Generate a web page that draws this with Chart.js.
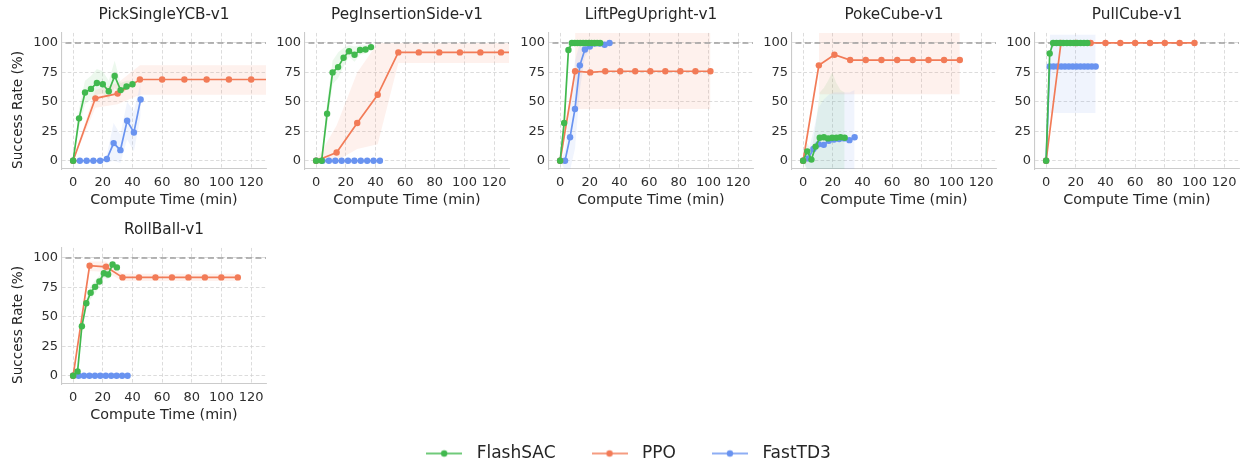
<!DOCTYPE html>
<html><head><meta charset="utf-8">
<script src="https://cdn.jsdelivr.net/npm/chart.js@4.4.0/dist/chart.umd.min.js"></script>
<style>
html,body{margin:0;padding:0;background:#fff;}
body{width:1244px;height:467px;overflow:hidden;position:relative;}
canvas{position:absolute;}
</style></head><body>
<script>
// ---------- series names / colours ----------
const SERIES_NAMES = ['FlashSAC', 'PPO', 'FastTD3'];
const TASK_TITLES = ['PickSingleYCB-v1', 'PegInsertionSide-v1', 'LiftPegUpright-v1', 'PokeCube-v1', 'PullCube-v1', 'RollBall-v1'];
const X_TICKS = [0, 20, 40, 60, 80, 100, 120];
const Y_TICKS = [0, 25, 50, 75, 100];

// ---------- PickSingleYCB-v1 ----------
const pickFlashT  = [0, 4, 8, 12, 16, 20, 24, 28, 32, 36, 40];
const pickFlashY  = [0, 36, 58, 61, 66, 65, 59, 72, 60, 63, 65];
const pickFlashLo = [0, 28, 48, 52, 56, 57, 52, 62, 56, 60, 63];
const pickFlashHi = [0, 44, 68, 72, 78, 76, 68, 85, 66, 68, 68];
const pickPpoT  = [0, 15, 30, 45, 60, 75, 90, 105, 120, 135];
const pickPpoY  = [0, 53, 57, 69, 69, 69, 69, 69, 69, 69];
const pickPpoLo = [0, 45, 48, 56, 56, 56, 56, 56, 56, 56];
const pickPpoHi = [0, 60, 66, 81, 81, 81, 81, 81, 81, 81];
const pickFastT  = [0, 4.55, 9.1, 13.65, 18.2, 22.75, 27.3, 31.85, 36.4, 40.95, 45.5];
const pickFastY  = [0, 0, 0, 0, 0, 1.5, 15, 9, 34, 24, 52];
const pickFastLo = [0, 0, 0, 0, 0, -2, 0, -2, 18, 8, 38];
const pickFastHi = [0, 0, 0, 0, 0, 5, 32, 22, 50, 42, 66];

// ---------- PegInsertionSide-v1 ----------
const pegFlashT  = [0, 3.7, 7.4, 11.1, 14.8, 18.5, 22.2, 25.9, 29.6, 33.3, 37];
const pegFlashY  = [0, 0, 40, 75, 79.5, 87.5, 93, 90, 94, 94.5, 96.5];
const pegFlashLo = [0, 0, 30, 65, 70, 80, 88, 84, 90, 91, 94];
const pegFlashHi = [0, 0, 50, 85, 92, 96, 98, 97, 98, 98, 99];
const pegPpoT  = [0, 13.8, 27.7, 41.5, 55.4, 69.2, 83, 96.9, 110.7, 124.6, 138.4];
const pegPpoY  = [0, 7, 32, 56, 92, 92, 92, 92, 92, 92, 92];
const pegPpoLo = [0, 0, 10, 14, 83, 83, 83, 83, 83, 83, 83];
const pegPpoHi = [0, 30, 75, 100, 100, 100, 100, 100, 100, 100, 100];
const pegFastT = [0, 4.3, 8.6, 12.9, 17.2, 21.5, 25.8, 30.1, 34.4, 38.7, 43];
const pegFastY = [0, 0, 0, 0, 0, 0, 0, 0, 0, 0, 0];

// ---------- LiftPegUpright-v1 ----------
const liftFlashT  = [0, 2.7, 5.6, 7.9, 9.8, 11.7, 13.6, 15.5, 17.4, 19.3, 21.2, 23.1, 25, 27];
const liftFlashY  = [0, 32, 94, 100, 100, 100, 100, 100, 100, 100, 100, 100, 100, 100];
const liftFlashLo = [0, 18, 88, 100, 100, 100, 100, 100, 100, 100, 100, 100, 100, 100];
const liftFlashHi = [0, 46, 100, 100, 100, 100, 100, 100, 100, 100, 100, 100, 100, 100];
const liftPpoT  = [0, 10.1, 20.3, 30.4, 40.5, 50.6, 60.8, 70.9, 81, 91.2, 101.3];
const liftPpoY  = [0, 76, 75, 76, 76, 76, 76, 76, 76, 76, 76];
const liftPpoLo = [null, 44, 44, 44, 44, 44, 44, 44, 44, 44, 44];
const liftPpoHi = [null, 112, 112, 112, 112, 112, 112, 112, 112, 112, 112];
const liftFastT  = [0, 3.3, 6.7, 10, 13.3, 16.7, 20, 23.3, 26.7, 30, 33.3];
const liftFastY  = [0, 0, 20, 44, 81, 94.5, 97, 99.5, 99.5, 98.5, 100];
const liftFastLo = [0, -8, -8, 10, 60, 88, 94, 98, 98, 96, 100];
const liftFastHi = [0, 8, 50, 85, 100, 101, 100, 101, 101, 101, 100];

// ---------- PokeCube-v1 ----------
const pokeFlashT  = [0, 2.8, 5.6, 8.4, 11.2, 14, 16.8, 19.6, 22.4, 25.2, 28];
const pokeFlashY  = [0, 8, 1, 12, 19.5, 20, 19, 19.5, 19.5, 20, 19.5];
const pokeFlashLo = [0, -9, -9, -9, -9, -9, -9, -9, -9, -9, -9];
const pokeFlashHi = [0, 15, 8, 30, 58, 62, 68, 75, 66, 60, 58];
const pokePpoT  = [0, 10.6, 21.1, 31.7, 42.2, 52.8, 63.4, 73.9, 84.5, 95, 105.6];
const pokePpoY  = [0, 81, 90, 85.5, 85.5, 85.5, 85.5, 85.5, 85.5, 85.5, 85.5];
const pokePpoLo = [null, 56.5, 56.5, 56.5, 56.5, 56.5, 56.5, 56.5, 56.5, 56.5, 56.5];
const pokePpoHi = [null, 112, 112, 112, 112, 112, 112, 112, 112, 112, 112];
const pokeFastT  = [0, 3.5, 6.9, 10.4, 13.9, 17.3, 20.8, 24.3, 27.7, 31.2, 34.7];
const pokeFastY  = [0, 2, 10, 14, 13.5, 17, 18, 18.5, 19, 17.5, 20];
const pokeFastLo = [0, -9, -9, -9, -9, -9, -9, -9, -9, -9, -9];
const pokeFastHi = [0, 8, 25, 45, 52, 56, 58, 58, 58, 58, 60];

// ---------- PullCube-v1 ----------
const pullFlashT = [0, 2.4, 4.7, 7.0, 9.3, 11.6, 14, 16.3, 18.6, 20.9, 23.2, 25.5, 27.8];
const pullFlashY = [0, 91, 100, 100, 100, 100, 100, 100, 100, 100, 100, 100, 100];
const pullPpoT = [0, 10, 20, 30, 40, 50, 60, 70, 80, 90, 100];
const pullPpoY = [0, 100, 100, 100, 100, 100, 100, 100, 100, 100, 100];
const pullFastT  = [0, 2.4, 5.0, 7.6, 10.2, 12.7, 15.3, 17.9, 20.5, 23.1, 25.7, 28.2, 30.8, 33.4];
const pullFastY  = [0, 80, 80, 80, 80, 80, 80, 80, 80, 80, 80, 80, 80, 80];
const pullFastLo = [null, 40.5, 40.5, 40.5, 40.5, 40.5, 40.5, 40.5, 40.5, 40.5, 40.5, 40.5, 40.5, 40.5];
const pullFastHi = [null, 107, 107, 107, 107, 107, 107, 107, 107, 107, 107, 107, 107, 107];

// ---------- RollBall-v1 ----------
const rollFlashT  = [0, 3, 5.9, 8.9, 11.8, 14.8, 17.7, 20.7, 23.6, 26.6, 29.5];
const rollFlashY  = [0, 3.7, 42, 61.5, 70.5, 75.5, 80, 87, 86, 94.5, 92];
const rollFlashLo = [0, 1, 39, 57, 65, 70, 75, 83, 82, 92, 90];
const rollFlashHi = [0, 6, 45, 66, 76, 81, 85, 91, 90, 97, 94];
const rollPpoT  = [0, 11.1, 22.2, 33.3, 44.4, 55.5, 66.6, 77.7, 88.8, 99.9, 111];
const rollPpoY  = [0, 93.5, 92.5, 83.5, 83.5, 83.5, 83.5, 83.5, 83.5, 83.5, 83.5];
const rollPpoLo = [0, 89, 88, 80.5, 80.5, 80.5, 80.5, 80.5, 80.5, 80.5, 80.5];
const rollPpoHi = [0, 97, 97, 86.5, 86.5, 86.5, 86.5, 86.5, 86.5, 86.5, 86.5];
const rollFastT = [0, 3.7, 7.3, 11, 14.7, 18.3, 22, 25.7, 29.3, 33, 36.7];
const rollFastY = [0, 0, 0, 0, 0, 0, 0, 0, 0, 0, 0];

// ---------- style ----------
const FONT = "'DejaVu Sans', sans-serif";
const COLORS = { FlashSAC: '#41b94e', PPO: '#f27b57', FastTD3: '#6993f0' };
const BANDS  = { FlashSAC: 'rgba(65,185,78,0.10)', PPO: 'rgba(242,123,87,0.11)', FastTD3: 'rgba(105,147,240,0.10)' };
const ORDER  = { FlashSAC: 1, PPO: 2, FastTD3: 3 };

const PANELS = [
  { title: TASK_TITLES[0], col: 0, row: 0, ylabel: true, s: {
      FlashSAC: [pickFlashT, pickFlashY, pickFlashLo, pickFlashHi],
      PPO: [pickPpoT, pickPpoY, pickPpoLo, pickPpoHi],
      FastTD3: [pickFastT, pickFastY, pickFastLo, pickFastHi] } },
  { title: TASK_TITLES[1], col: 1, row: 0, s: {
      FlashSAC: [pegFlashT, pegFlashY, pegFlashLo, pegFlashHi],
      PPO: [pegPpoT, pegPpoY, pegPpoLo, pegPpoHi],
      FastTD3: [pegFastT, pegFastY] } },
  { title: TASK_TITLES[2], col: 2, row: 0, s: {
      FlashSAC: [liftFlashT, liftFlashY, liftFlashLo, liftFlashHi],
      PPO: [liftPpoT, liftPpoY, liftPpoLo, liftPpoHi],
      FastTD3: [liftFastT, liftFastY, liftFastLo, liftFastHi] } },
  { title: TASK_TITLES[3], col: 3, row: 0, s: {
      FlashSAC: [pokeFlashT, pokeFlashY, pokeFlashLo, pokeFlashHi],
      PPO: [pokePpoT, pokePpoY, pokePpoLo, pokePpoHi],
      FastTD3: [pokeFastT, pokeFastY, pokeFastLo, pokeFastHi] } },
  { title: TASK_TITLES[4], col: 4, row: 0, s: {
      FlashSAC: [pullFlashT, pullFlashY],
      PPO: [pullPpoT, pullPpoY],
      FastTD3: [pullFastT, pullFastY, pullFastLo, pullFastHi] } },
  { title: TASK_TITLES[5], col: 0, row: 1, ylabel: true, s: {
      FlashSAC: [rollFlashT, rollFlashY, rollFlashLo, rollFlashHi],
      PPO: [rollPpoT, rollPpoY, rollPpoLo, rollPpoHi],
      FastTD3: [rollFastT, rollFastY] } }
];

const COL_LEFT = [0, 243, 487, 730, 973];
const ROW_TOP = [0, 215];
const CW = 272, CH = 215;

function pts(t, v) {
  const out = [];
  for (let i = 0; i < t.length; i++) if (v[i] !== null && v[i] !== undefined) out.push({ x: t[i], y: v[i] });
  return out;
}

function buildDatasets(p) {
  const ds = [];
  ds.push({ data: [{ x: -50, y: 100 }, { x: 300, y: 100 }], borderColor: '#9e9e9e', borderWidth: 1.5,
            borderDash: [6, 3.5], pointRadius: 0, fill: false, order: 8, clip: 0 });
  ['FastTD3', 'PPO', 'FlashSAC'].forEach(name => {
    const a = p.s[name];
    if (a.length < 4) return;
    ds.push({ data: pts(a[0], a[3]), borderColor: 'transparent', borderWidth: 0, pointRadius: 0, fill: false, order: 10, clip: 0 });
    ds.push({ data: pts(a[0], a[2]), borderColor: 'transparent', borderWidth: 0, pointRadius: 0, fill: '-1',
              backgroundColor: BANDS[name], order: 10, clip: 0 });
  });
  ['FastTD3', 'PPO', 'FlashSAC'].forEach(name => {
    const a = p.s[name];
    ds.push({ label: name, data: pts(a[0], a[1]), borderColor: COLORS[name], backgroundColor: COLORS[name],
              pointBackgroundColor: COLORS[name], pointBorderWidth: 0, pointRadius: 3.2, borderWidth: 1.7,
              tension: 0, fill: false, order: ORDER[name], clip: 0 });
  });
  return ds;
}

function makePanel(p) {
  const c = document.createElement('canvas');
  c.width = CW; c.height = CH;
  c.style.left = COL_LEFT[p.col] + 'px';
  c.style.top = ROW_TOP[p.row] + 'px';
  document.body.appendChild(c);
  new Chart(c.getContext('2d'), {
    type: 'line',
    data: { datasets: buildDatasets(p) },
    options: {
      responsive: false, animation: false, devicePixelRatio: 1,
      events: [],
      layout: { padding: { left: 0, right: 6, top: 0, bottom: 0 } },
      plugins: {
        legend: { display: false }, tooltip: { enabled: false },
        filler: { drawTime: 'beforeDatasetsDraw' },
        title: { display: true, fullSize: false, text: p.title, color: '#262626',
                 font: { family: FONT, size: 15.3, weight: 'normal', lineHeight: 1.2 },
                 padding: { top: 6, bottom: 8.6 } }
      },
      scales: {
        x: {
          type: 'linear', min: -7.5, max: 130,
          afterBuildTicks: s => { s.ticks = X_TICKS.map(v => ({ value: v })); },
          afterFit: s => { s.height = CH - 169; },
          grid: { color: '#d3d3d3', lineWidth: 0.8, drawTicks: false },
          border: { display: true, color: '#cbcbcb', width: 1.1, dash: [3.5, 2.2] },
          ticks: { font: { family: FONT, size: 13 }, color: '#2e2e2e', padding: 6, maxRotation: 0, autoSkip: false },
          title: { display: true, text: 'Compute Time (min)', color: '#262626',
                   font: { family: FONT, size: 14.3, lineHeight: 1.2 }, padding: { top: 0, bottom: 6.5 } }
        },
        y: {
          type: 'linear', min: -7, max: 108.5,
          afterBuildTicks: s => { s.ticks = Y_TICKS.map(v => ({ value: v })); },
          afterFit: s => { s.width = 62; },
          grid: { color: '#d3d3d3', lineWidth: 0.8, drawTicks: false },
          border: { display: true, color: '#cbcbcb', width: 1.1, dash: [3.5, 2.2] },
          ticks: { font: { family: FONT, size: 13 }, color: '#2e2e2e', padding: 4 },
          title: { display: !!p.ylabel, text: 'Success Rate (%)', color: '#262626', align: 'start',
                   font: { family: FONT, size: 13.6, lineHeight: 1.2 }, padding: { top: 10.5, bottom: 0 } }
        }
      }
    }
  });
}

PANELS.forEach(makePanel);

// ---------- legend ----------
function legendImage(color) {
  const cv = document.createElement('canvas');
  cv.width = 36; cv.height = 10;
  const g = cv.getContext('2d');
  g.strokeStyle = color; g.lineWidth = 1.7;
  g.beginPath(); g.moveTo(0, 5); g.lineTo(36, 5); g.stroke();
  g.fillStyle = color; g.beginPath(); g.arc(18, 5, 3.2, 0, Math.PI * 2); g.fill();
  return cv;
}
const lc = document.createElement('canvas');
lc.width = 1244; lc.height = 120;
lc.style.left = '0px'; lc.style.top = '415px';
document.body.appendChild(lc);
new Chart(lc.getContext('2d'), {
  type: 'line',
  data: { datasets: SERIES_NAMES.map(n => ({ label: n, data: [], borderColor: COLORS[n], backgroundColor: COLORS[n] })) },
  options: {
    responsive: false, animation: false, devicePixelRatio: 1, events: [],
    layout: { padding: { left: 7, right: 0, top: 0, bottom: 0 } },
    scales: { x: { display: false }, y: { display: false } },
    plugins: {
      tooltip: { enabled: false },
      legend: {
        display: true, position: 'top', align: 'center', maxHeight: 200,
        labels: {
          usePointStyle: true, pointStyleWidth: 48, padding: 30, color: '#262626',
          font: { family: FONT, size: 17 },
          generateLabels: chart => chart.data.datasets.map((d, i) => ({
            text: d.label, pointStyle: legendImage(COLORS[d.label]), fillStyle: COLORS[d.label],
            strokeStyle: COLORS[d.label], lineWidth: 0, hidden: false, datasetIndex: i, fontColor: '#262626'
          }))
        }
      }
    }
  }
});
</script>
</body></html>
